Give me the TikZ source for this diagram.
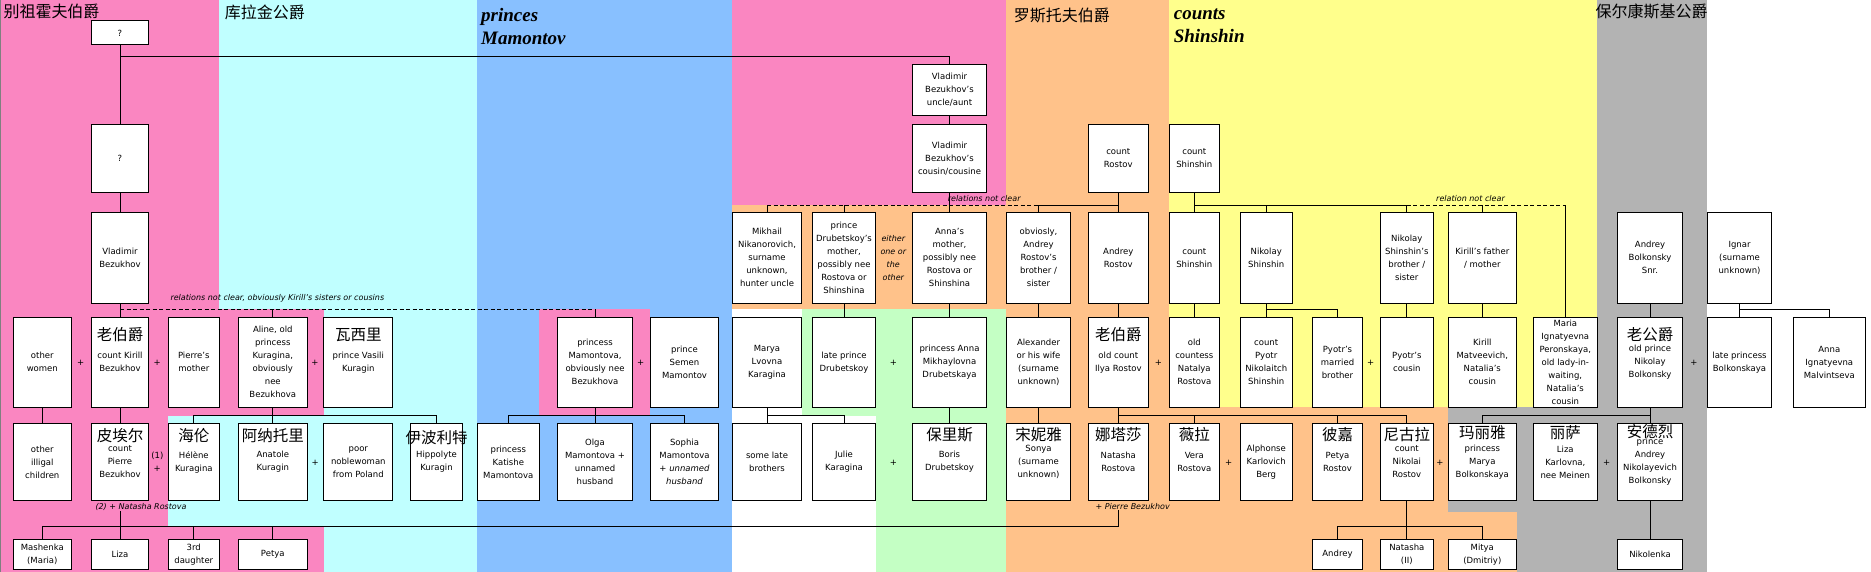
\documentclass[tikz,border=0pt]{standalone}
\usepackage{fontspec}
\setmainfont{DejaVu Sans}
\newfontfamily\cjk{Noto Sans CJK SC}
\newfontfamily\housefont{Liberation Serif}
\definecolor{bzpink}{HTML}{FA86C1}
\definecolor{kucyan}{HTML}{C0FFFF}
\definecolor{mmblue}{HTML}{88C0FF}
\definecolor{roorange}{HTML}{FFC28A}
\definecolor{shyellow}{HTML}{FFFF8C}
\definecolor{drgreen}{HTML}{C4FFC4}
\definecolor{bkgrey}{HTML}{B3B3B3}
\tikzset{
  person/.style={draw, fill=white, inner sep=0pt, align=center, font=\fontsize{8.5}{13}\selectfont},
  rzero/.style={minimum height=68pt},
  rone/.style={minimum height=91pt},
  rtwo/.style={minimum height=90pt},
  rthree/.style={minimum height=77.4pt},
  rfour/.style={minimum height=30pt},
  zh/.style={inner sep=0pt, font=\cjk\fontsize{15.5}{16}\selectfont},
  clan/.style={inner sep=0pt, anchor=west, font=\cjk\fontsize{16}{18}\selectfont},
  house/.style={inner sep=0pt, anchor=north west, align=left, font=\housefont\bfseries\itshape\fontsize{19}{23.3}\selectfont},
  note/.style={inner sep=0pt, anchor=west, font=\fontsize{8}{13}\selectfont\itshape},
  plus/.style={inner sep=0pt, align=center, font=\fontsize{8.5}{13}\selectfont},
  unclear/.style={dash pattern=on 4pt off 2.5pt}
}
\begin{document}
\begin{tikzpicture}[x=1pt,y=-1pt,line width=1pt]
    \useasboundingbox (0,0) rectangle (1871,572);
    \fill[bzpink] (0,0) rectangle (219,572);
    \fill[kucyan] (219,0) rectangle (477,572);
    \fill[mmblue] (477,0) rectangle (732,572);
    \fill[bzpink] (732,0) rectangle (1006,205.3);
    \fill[roorange] (732,205.3) rectangle (1006,309);
    \fill[drgreen] (801.7,309) rectangle (1006,415.7);
    \fill[drgreen] (875.7,415.7) rectangle (1006,572);
    \fill[roorange] (1006,0) rectangle (1169,572);
    \fill[shyellow] (1169,0) rectangle (1597,407.3);
    \fill[roorange] (1169,407.3) rectangle (1448.3,572);
    \fill[roorange] (1448.3,512.3) rectangle (1516.7,572);
    \fill[bkgrey] (1448.3,407.3) rectangle (1597,512.3);
    \fill[bkgrey] (1516.7,512.3) rectangle (1597,572);
    \fill[bkgrey] (1597,0) rectangle (1706.7,572);
    \fill[bzpink] (219,309) rectangle (324,415.7);
    \fill[kucyan] (168.3,415.7) rectangle (219,526.7);
    \fill[bzpink] (219,526.7) rectangle (324,572);
    \fill[bzpink] (539,309) rectangle (650,415.7);
    \draw[gray,line width=0.8pt] (0.4,0) -- (0.4,572);

    \coordinate (topbar) at (0,56.5);
    \coordinate (upbar) at (0,205.3);
    \coordinate (midbar) at (0,309.5);
    \coordinate (kidbar) at (0,415.7);
    \coordinate (lowbar) at (0,526.7);

    \node (bztitle) at (3,11.7) [clan] {别祖霍夫伯爵};
    \node (kutitle) at (224.3,12.5) [clan] {库拉金公爵};
    \node (mmtitle) at (480.7,8) [house] {princes\\Mamontov};
    \node (rotitle) at (1013.3,15.8) [clan] {罗斯托夫伯爵};
    \node (shtitle) at (1173.3,8) [house] {counts\\Shinshin};
    \node (bktitle) at (1595,11.7) [clan] {保尔康斯基公爵};

    \node (anc) at (120,33) [person, minimum width=57pt, minimum height=24pt] {?};
    \node (unk) at (120,158.3) [person, rzero, minimum width=57pt] {?};
    \node (vlunc) at (949.5,89.8) [person, minimum width=74.4pt, minimum height=51pt] {Vladimir\\Bezukhov's\\uncle/aunt};
    \node (vlcous) at (949.5,158.3) [person, rzero, minimum width=74.4pt] {Vladimir\\Bezukhov's\\cousin/cousine};
    \node (crostov) at (1118.3,158.3) [person, rzero, minimum width=60pt] {count\\Rostov};
    \node (cshin) at (1194.3,158.3) [person, rzero, minimum width=50pt] {count\\Shinshin};

    \node (vlad) at (120,257.8) [person, rone, minimum width=57pt] {Vladimir\\Bezukhov};
    \node (mikhail) at (767,257.8) [person, rone, minimum width=69.4pt] {Mikhail\\Nikanorovich,\\surname\\unknown,\\hunter uncle};
    \node (drubmom) at (844,257.8) [person, rone, minimum width=63.4pt] {prince\\Drubetskoy's\\mother,\\possibly nee\\Rostova or\\Shinshina};
    \node (either) at (893.3,258) [note, anchor=center, align=center] {either\\one or\\the\\other};
    \node (annamom) at (949.5,257.8) [person, rone, minimum width=74.4pt] {Anna's\\mother,\\possibly nee\\Rostova or\\Shinshina};
    \node (rsib) at (1038.5,257.8) [person, rone, minimum width=63.6pt] {obviosly,\\Andrey\\Rostov's\\brother /\\sister};
    \node (andreyr) at (1118.3,257.8) [person, rone, minimum width=60pt] {Andrey\\Rostov};
    \node (shinshin) at (1194.3,257.8) [person, rone, minimum width=50pt] {count\\Shinshin};
    \node (nikshin) at (1266.2,257.8) [person, rone, minimum width=52.3pt] {Nikolay\\Shinshin};
    \node (niksib) at (1406.8,257.8) [person, rone, minimum width=53pt] {Nikolay\\Shinshin's\\brother /\\sister};
    \node (kirpar) at (1482.3,257.8) [person, rone, minimum width=68pt] {Kirill's father\\/ mother};
    \node (bolksnr) at (1650,257.8) [person, rone, minimum width=65.4pt] {Andrey\\Bolkonsky\\Snr.};
    \node (ignar) at (1739.5,257.8) [person, rone, minimum width=64.4pt] {Ignar\\(surname\\unknown)};

    \node (owomen) at (42.3,362.3) [person, rtwo, minimum width=58pt] {other\\women};
    \node (kirill) at (120,362.3) [person, rtwo, minimum width=57pt] {count Kirill\\Bezukhov};
    \node (pmother) at (193.8,362.3) [person, rtwo, minimum width=51pt] {Pierre's\\mother};
    \node (aline) at (272.8,362.3) [person, rtwo, minimum width=69pt] {Aline, old\\princess\\Kuragina,\\obviously\\nee\\Bezukhova};
    \node (vasili) at (358.3,362.3) [person, rtwo, minimum width=68.7pt] {prince Vasili\\Kuragin};
    \node (mamontova) at (595,362.3) [person, rtwo, minimum width=75.4pt] {princess\\Mamontova,\\obviously nee\\Bezukhova};
    \node (semen) at (684.5,362.3) [person, rtwo, minimum width=68.4pt] {prince\\Semen\\Mamontov};
    \node (maryak) at (767,362.3) [person, rtwo, minimum width=69.4pt] {Marya\\Lvovna\\Karagina};
    \node (drubetskoy) at (844,362.3) [person, rtwo, minimum width=63.4pt] {late prince\\Drubetskoy};
    \node (annam) at (949.5,362.3) [person, rtwo, minimum width=74.4pt] {princess Anna\\Mikhaylovna\\Drubetskaya};
    \node (alexander) at (1038.5,362.3) [person, rtwo, minimum width=63.6pt] {Alexander\\or his wife\\(surname\\unknown)};
    \node (ilya) at (1118.3,362.3) [person, rtwo, minimum width=60pt] {old count\\Ilya Rostov};
    \node (natalya) at (1194.3,362.3) [person, rtwo, minimum width=50pt] {old\\countess\\Natalya\\Rostova};
    \node (pyotr) at (1266.2,362.3) [person, rtwo, minimum width=52.3pt] {count\\Pyotr\\Nikolaitch\\Shinshin};
    \node (pbrother) at (1337.5,362.3) [person, rtwo, minimum width=50.4pt] {Pyotr's\\married\\brother};
    \node (pcousin) at (1406.8,362.3) [person, rtwo, minimum width=53pt] {Pyotr's\\cousin};
    \node (matveevich) at (1482.3,362.3) [person, rtwo, minimum width=68pt] {Kirill\\Matveevich,\\Natalia's\\cousin};
    \node (peronskaya) at (1565.3,362.3) [person, rtwo, minimum width=64pt] {Maria\\Ignatyevna\\Peronskaya,\\old lady-in-\\waiting,\\Natalia's\\cousin};
    \node (oldprince) at (1650,362.3) [person, rtwo, minimum width=65.4pt] {old prince\\Nikolay\\Bolkonsky};
    \node (lateprincess) at (1739.5,362.3) [person, rtwo, minimum width=64.4pt] {late princess\\Bolkonskaya};
    \node (malvintseva) at (1829.3,362.3) [person, rtwo, minimum width=72pt] {Anna\\Ignatyevna\\Malvintseva};

    \node (ochildren) at (42.3,462) [person, rthree, minimum width=58pt] {other\\illigal\\children};
    \node (pierre) at (120,462) [person, rthree, minimum width=57pt] {count\\Pierre\\Bezukhov};
    \node (helene) at (193.8,462) [person, rthree, minimum width=51pt] {Hélène\\Kuragina};
    \node (anatole) at (272.8,462) [person, rthree, minimum width=69pt] {Anatole\\Kuragin};
    \node (noblewoman) at (358.3,462) [person, rthree, minimum width=68.7pt] {poor\\noblewoman\\from Poland};
    \node (hippolyte) at (436.5,462) [person, rthree, minimum width=52.4pt] {Hippolyte\\Kuragin};
    \node (katishe) at (508.3,462) [person, rthree, minimum width=62pt] {princess\\Katishe\\Mamontova};
    \node (olga) at (595,462) [person, rthree, minimum width=75.4pt] {Olga\\Mamontova +\\unnamed\\husband};
    \node (sophia) at (684.5,462) [person, rthree, minimum width=68.4pt] {Sophia\\Mamontova\\+ \textit{unnamed}\\\textit{husband}};
    \node (brothers) at (767,462) [person, rthree, minimum width=69.4pt] {some late\\brothers};
    \node (julie) at (844,462) [person, rthree, minimum width=63.4pt] {Julie\\Karagina};
    \node (boris) at (949.5,462) [person, rthree, minimum width=74.4pt] {Boris\\Drubetskoy};
    \node (sonya) at (1038.5,462) [person, rthree, minimum width=63.6pt] {Sonya\\(surname\\unknown)};
    \node (natasha) at (1118.3,462) [person, rthree, minimum width=60pt] {Natasha\\Rostova};
    \node (vera) at (1194.3,462) [person, rthree, minimum width=50pt] {Vera\\Rostova};
    \node (berg) at (1266.2,462) [person, rthree, minimum width=52.3pt] {Alphonse\\Karlovich\\Berg};
    \node (petya) at (1337.5,462) [person, rthree, minimum width=50.4pt] {Petya\\Rostov};
    \node (nikolai) at (1406.8,462) [person, rthree, minimum width=53pt] {count\\Nikolai\\Rostov};
    \node (maryab) at (1482.3,462) [person, rthree, minimum width=68pt] {princess\\Marya\\Bolkonskaya};
    \node (lizab) at (1565.3,462) [person, rthree, minimum width=64pt] {Liza\\Karlovna,\\nee Meinen};
    \node (andreyb) at (1650,462) [person, rthree, minimum width=65.4pt] {prince\\Andrey\\Nikolayevich\\Bolkonsky};

    \node (mashenka) at (42.3,554.3) [person, rfour, minimum width=58pt] {Mashenka\\(Maria)};
    \node (lizaz) at (120,554.3) [person, rfour, minimum width=57pt] {Liza};
    \node (daughter) at (193.8,554.3) [person, rfour, minimum width=51pt] {3rd\\daughter};
    \node (petyab) at (272.8,554.3) [person, rfour, minimum width=69pt] {Petya};
    \node (andreyn) at (1337.5,554.3) [person, rfour, minimum width=50.4pt] {Andrey};
    \node (natashan) at (1406.8,554.3) [person, rfour, minimum width=53pt] {Natasha\\(II)};
    \node (mitya) at (1482.3,554.3) [person, rfour, minimum width=68pt] {Mitya\\(Dmitriy)};
    \node (nikolenka) at (1650,554.3) [person, rfour, minimum width=65.4pt] {Nikolenka};

    \node (kirillzh) at ([yshift=-17.7pt]kirill.north) [zh] {老伯爵};
    \node (vasilizh) at ([yshift=-17.7pt]vasili.north) [zh] {瓦西里};
    \node (ilyazh) at ([yshift=-17.7pt]ilya.north) [zh] {老伯爵};
    \node (oldprincezh) at ([yshift=-17.7pt]oldprince.north) [zh] {老公爵};
    \node (pierrezh) at ([yshift=-13pt]pierre.north) [zh] {皮埃尔};
    \node (helenezh) at ([yshift=-13pt]helene.north) [zh] {海伦};
    \node (anatolezh) at ([yshift=-13pt]anatole.north) [zh] {阿纳托里};
    \node (hippolytezh) at ([yshift=-14.5pt]hippolyte.north) [zh] {伊波利特};
    \node (boriszh) at ([yshift=-12pt]boris.north) [zh] {保里斯};
    \node (sonyazh) at ([yshift=-12pt]sonya.north) [zh] {宋妮雅};
    \node (natashazh) at ([yshift=-12pt]natasha.north) [zh] {娜塔莎};
    \node (verazh) at ([yshift=-12pt]vera.north) [zh] {薇拉};
    \node (petyazh) at ([yshift=-12pt]petya.north) [zh] {彼嘉};
    \node (nikolaizh) at ([yshift=-12pt]nikolai.north) [zh] {尼古拉};
    \node (maryabzh) at ([yshift=-9.5pt]maryab.north) [zh] {玛丽雅};
    \node (lizabzh) at ([yshift=-10pt]lizab.north) [zh] {丽萨};
    \node (andreybzh) at ([yshift=-8.5pt]andreyb.north) [zh] {安德烈};

    \node (plusa) at (80.7,362.7) [plus] {+};
    \node (plusb) at (157.3,362.7) [plus] {+};
    \node (plusc) at (315,362.7) [plus] {+};
    \node (plusd) at (640.7,362.7) [plus] {+};
    \node (pluse) at (893.3,362.7) [plus] {+};
    \node (plusf) at (1158.3,362.7) [plus] {+};
    \node (plusg) at (1370.7,362.7) [plus] {+};
    \node (plush) at (1694,362.7) [plus] {+};
    \node (plusi) at (157.3,462) [plus] {(1)\\+};
    \node (plusj) at (315.3,462.7) [plus] {+};
    \node (plusk) at (893.3,462.7) [plus] {+};
    \node (plusl) at (1228.7,462.7) [plus] {+};
    \node (plusm) at (1440,462.7) [plus] {+};
    \node (plusn) at (1606.7,462.7) [plus] {+};

    \node (bznote) at (170,298) [note] {relations not clear, obviously Kirill's sisters or cousins};
    \node (drnote) at (947.3,199) [note] {relations not clear};
    \node (shnote) at (1435.7,199) [note] {relation not clear};
    \node (pnote) at (95,506.7) [note] {(2) + Natasha Rostova};
    \node (nnote) at (1095,506.7) [note] {+ Pierre Bezukhov};

    \draw (anc) -- (unk);
    \draw (anc.south |- topbar) -| (vlunc.north);
    \draw (unk) -- (vlad);
    \draw (vlunc) -- (vlcous);
    \draw (vlcous) -- (annamom);
    \draw (crostov) -- (andreyr);
    \draw (cshin) -- (shinshin);
    \draw[unclear] (mikhail.north |- upbar) -- (rsib.north |- upbar);
    \draw (mikhail.north) -- (mikhail.north |- upbar);
    \draw (drubmom.north) -- (drubmom.north |- upbar);
    \draw (rsib.north) |- (andreyr.north |- upbar);
    \draw (shinshin.north |- upbar) -| (niksib.north);
    \draw (nikshin.north) -- (nikshin.north |- upbar);
    \draw[unclear] (niksib.north |- upbar) -- (peronskaya.north |- upbar);
    \draw (kirpar.north) -- (kirpar.north |- upbar);
    \draw (peronskaya.north) -- (peronskaya.north |- upbar);

    \draw (vlad) -- (kirill);
    \draw[unclear] (vlad.south |- midbar) -- (mamontova.north |- midbar);
    \draw (aline.north) -- (aline.north |- midbar);
    \draw (mamontova.north) -- (mamontova.north |- midbar);
    \draw (drubmom) -- (drubetskoy);
    \draw (annamom) -- (annam);
    \draw (rsib) -- (alexander);
    \draw (andreyr) -- (ilya);
    \draw (shinshin) -- (natalya);
    \draw (nikshin) -- (pyotr);
    \draw (nikshin.south |- midbar) -| (pbrother.north);
    \draw (niksib) -- (pcousin);
    \draw (kirpar) -- (matveevich);
    \draw (bolksnr) -- (oldprince);
    \draw (ignar) -- (lateprincess);
    \draw (ignar.south |- midbar) -| (malvintseva.north);

    \draw (owomen) -- (ochildren);
    \draw (kirill) -- (pierre);
    \draw (aline) -- (anatole);
    \draw (helene.north) |- (hippolyte.north |- kidbar) -- (hippolyte.north);
    \draw (mamontova) -- (olga);
    \draw (katishe.north) |- (sophia.north |- kidbar) -- (sophia.north);
    \draw (maryak) -- (brothers);
    \draw (maryak.south |- kidbar) -| (julie.north);
    \draw (annam) -- (boris);
    \draw (alexander) -- (sonya);
    \draw (ilya) -- (natasha);
    \draw (ilya.south |- kidbar) -| (nikolai.north);
    \draw (vera.north) -- (vera.north |- kidbar);
    \draw (petya.north) -- (petya.north |- kidbar);
    \draw (oldprince) -- (andreyb);
    \draw (oldprince.south |- kidbar) -| (maryab.north);

    \draw (mashenka.north) |- (natasha.south |- lowbar) -- (natasha.south |- nnote.south);
    \draw (lizaz.north) -- (lizaz.north |- pnote.south);
    \draw (daughter.north) -- (daughter.north |- lowbar);
    \draw (petyab.north) -- (petyab.north |- lowbar);
    \draw (nikolai) -- (natashan);
    \draw (andreyn.north) |- (mitya.north |- lowbar) -- (mitya.north);
    \draw (andreyb) -- (nikolenka);
\end{tikzpicture}
\end{document}
